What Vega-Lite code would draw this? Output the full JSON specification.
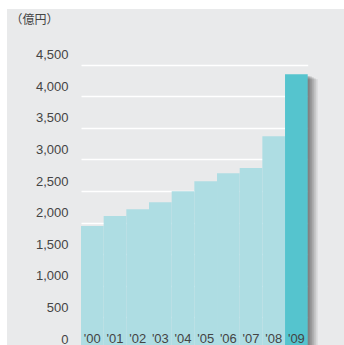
{
  "$schema": "https://vega.github.io/schema/vega-lite/v6.json",
  "width": 337,
  "height": 340,
  "autosize": {"type": "none"},
  "padding": {"left": 7, "top": 9, "right": 0, "bottom": 0},
  "background": "#ffffff",
  "config": {"view": {"fill": "#e9eaeb", "stroke": null}, "font": "Liberation Sans"},
  "data": {"values": [
    {"year": "'00", "value": 1946, "highlight": "no"},
    {"year": "'01", "value": 2104, "highlight": "no"},
    {"year": "'02", "value": 2210, "highlight": "no"},
    {"year": "'03", "value": 2321, "highlight": "no"},
    {"year": "'04", "value": 2495, "highlight": "no"},
    {"year": "'05", "value": 2653, "highlight": "no"},
    {"year": "'06", "value": 2780, "highlight": "no"},
    {"year": "'07", "value": 2864, "highlight": "no"},
    {"year": "'08", "value": 3365, "highlight": "no"},
    {"year": "'09", "value": 4347, "highlight": "yes"}
  ]},
  "encoding": {
    "x": {"field": "year", "type": "ordinal", "sort": null,
      "scale": {"domain": ["'00", "'01", "'02", "'03", "'04", "'05", "'06", "'07", "'08", "'09"],
        "paddingInner": 0, "paddingOuter": 0, "range": [74, 300.7]},
      "axis": {"orient": "bottom", "ticks": false, "domain": false, "title": null, "labelAngle": 0,
        "labelPadding": -11, "labelBaseline": "middle", "labelFontSize": 13, "labelColor": "#444444", "zindex": 1}},
    "y": {"field": "value", "type": "quantitative",
      "scale": {"domain": [0, 5380], "nice": false},
      "axis": {"values": [0, 500, 1000, 1500, 2000, 2500, 3000, 3500, 4000, 4500], "format": ",.0f",
        "ticks": false, "domain": false, "grid": true, "gridColor": "#ffffff", "gridWidth": 1.5,
        "labelPadding": -61, "labelOffset": -10, "labelFontSize": 13, "labelColor": "#444444",
        "labelAlign": "right", "labelBaseline": "middle", "labelLimit": 200, "labelOverlap": false,
        "title": "（億円）", "titleAngle": 0, "titleX": 3, "titleY": 10, "titleAlign": "left",
        "titleBaseline": "middle", "titleFont": "Noto Sans CJK JP", "titleFontSize": 12,
        "titleFontWeight": "normal", "titleColor": "#444444"}}
  },
  "layer": [
    {"transform": [{"filter": "datum.highlight == 'yes'"}],
     "mark": {"type": "bar", "color": "#000000", "opacity": 0.12, "xOffset": 2, "x2Offset": 2, "yOffset": 2}},
    {"transform": [{"filter": "datum.highlight == 'yes'"}],
     "mark": {"type": "bar", "color": "#000000", "opacity": 0.12, "xOffset": 4, "x2Offset": 4, "yOffset": 2}},
    {"transform": [{"filter": "datum.highlight == 'yes'"}],
     "mark": {"type": "bar", "color": "#000000", "opacity": 0.12, "xOffset": 6, "x2Offset": 6, "yOffset": 3}},
    {"transform": [{"filter": "datum.highlight == 'yes'"}],
     "mark": {"type": "bar", "color": "#000000", "opacity": 0.1, "xOffset": 8, "x2Offset": 8, "yOffset": 4}},
    {"transform": [{"filter": "datum.highlight == 'yes'"}],
     "mark": {"type": "bar", "color": "#000000", "opacity": 0.08, "xOffset": 10, "x2Offset": 10, "yOffset": 5}},
    {"mark": {"type": "bar"},
     "encoding": {"color": {"field": "highlight", "type": "nominal",
       "scale": {"domain": ["no", "yes"], "range": ["#aedde3", "#55c4ce"]}, "legend": null}}}
  ]
}
